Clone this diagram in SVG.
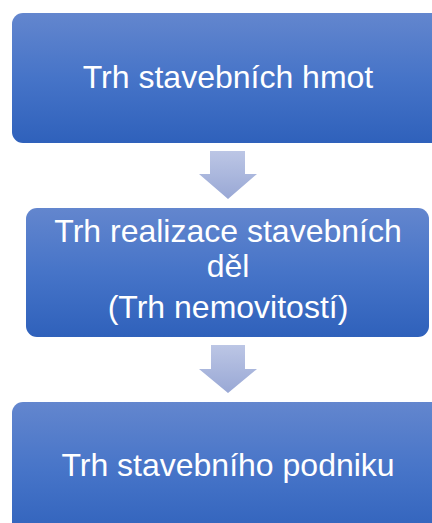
<svg xmlns="http://www.w3.org/2000/svg" width="432" height="523" viewBox="0 0 432 523">
<defs>
<linearGradient id="boxg" x1="0" y1="0" x2="0" y2="1">
<stop offset="0" stop-color="#6386ce"/>
<stop offset="0.5" stop-color="#4674c8"/>
<stop offset="1" stop-color="#2f61bb"/>
</linearGradient>
<linearGradient id="arrg" x1="0" y1="0" x2="0" y2="1">
<stop offset="0" stop-color="#bcc6e5"/>
<stop offset="1" stop-color="#99a8d5"/>
</linearGradient>
</defs>
<style>
.box{fill:url(#boxg);}
.arr{fill:url(#arrg);}
.t{font-family:"Liberation Sans",Arial,sans-serif;font-size:32px;fill:#ffffff;text-anchor:middle;}
</style>
<rect width="432" height="523" fill="#ffffff"/>
<g id="connectors">
<path class="arr" d="M210,151 H245 V174 H257 L228,199 L199,174 H210 Z"/>
<path class="arr" d="M211,345 H245 V369 H257 L228,393 L199,369 H211 Z"/>
</g>
<g id="node1">
<rect class="box" x="12" y="13" width="432" height="130" rx="11"/>
<text class="t" x="228" y="88">Trh stavebních hmot</text>
</g>
<g id="node2">
<rect class="box" x="26" y="208" width="403" height="129" rx="11"/>
<text class="t" x="228" y="242">Trh realizace stavebních</text>
<text class="t" x="228" y="277">děl</text>
<text class="t" x="228" y="318">(Trh nemovitostí)</text>
</g>
<g id="node3">
<rect class="box" x="12" y="402" width="432" height="140" rx="11"/>
<text class="t" x="228" y="476">Trh stavebního podniku</text>
</g>
</svg>
